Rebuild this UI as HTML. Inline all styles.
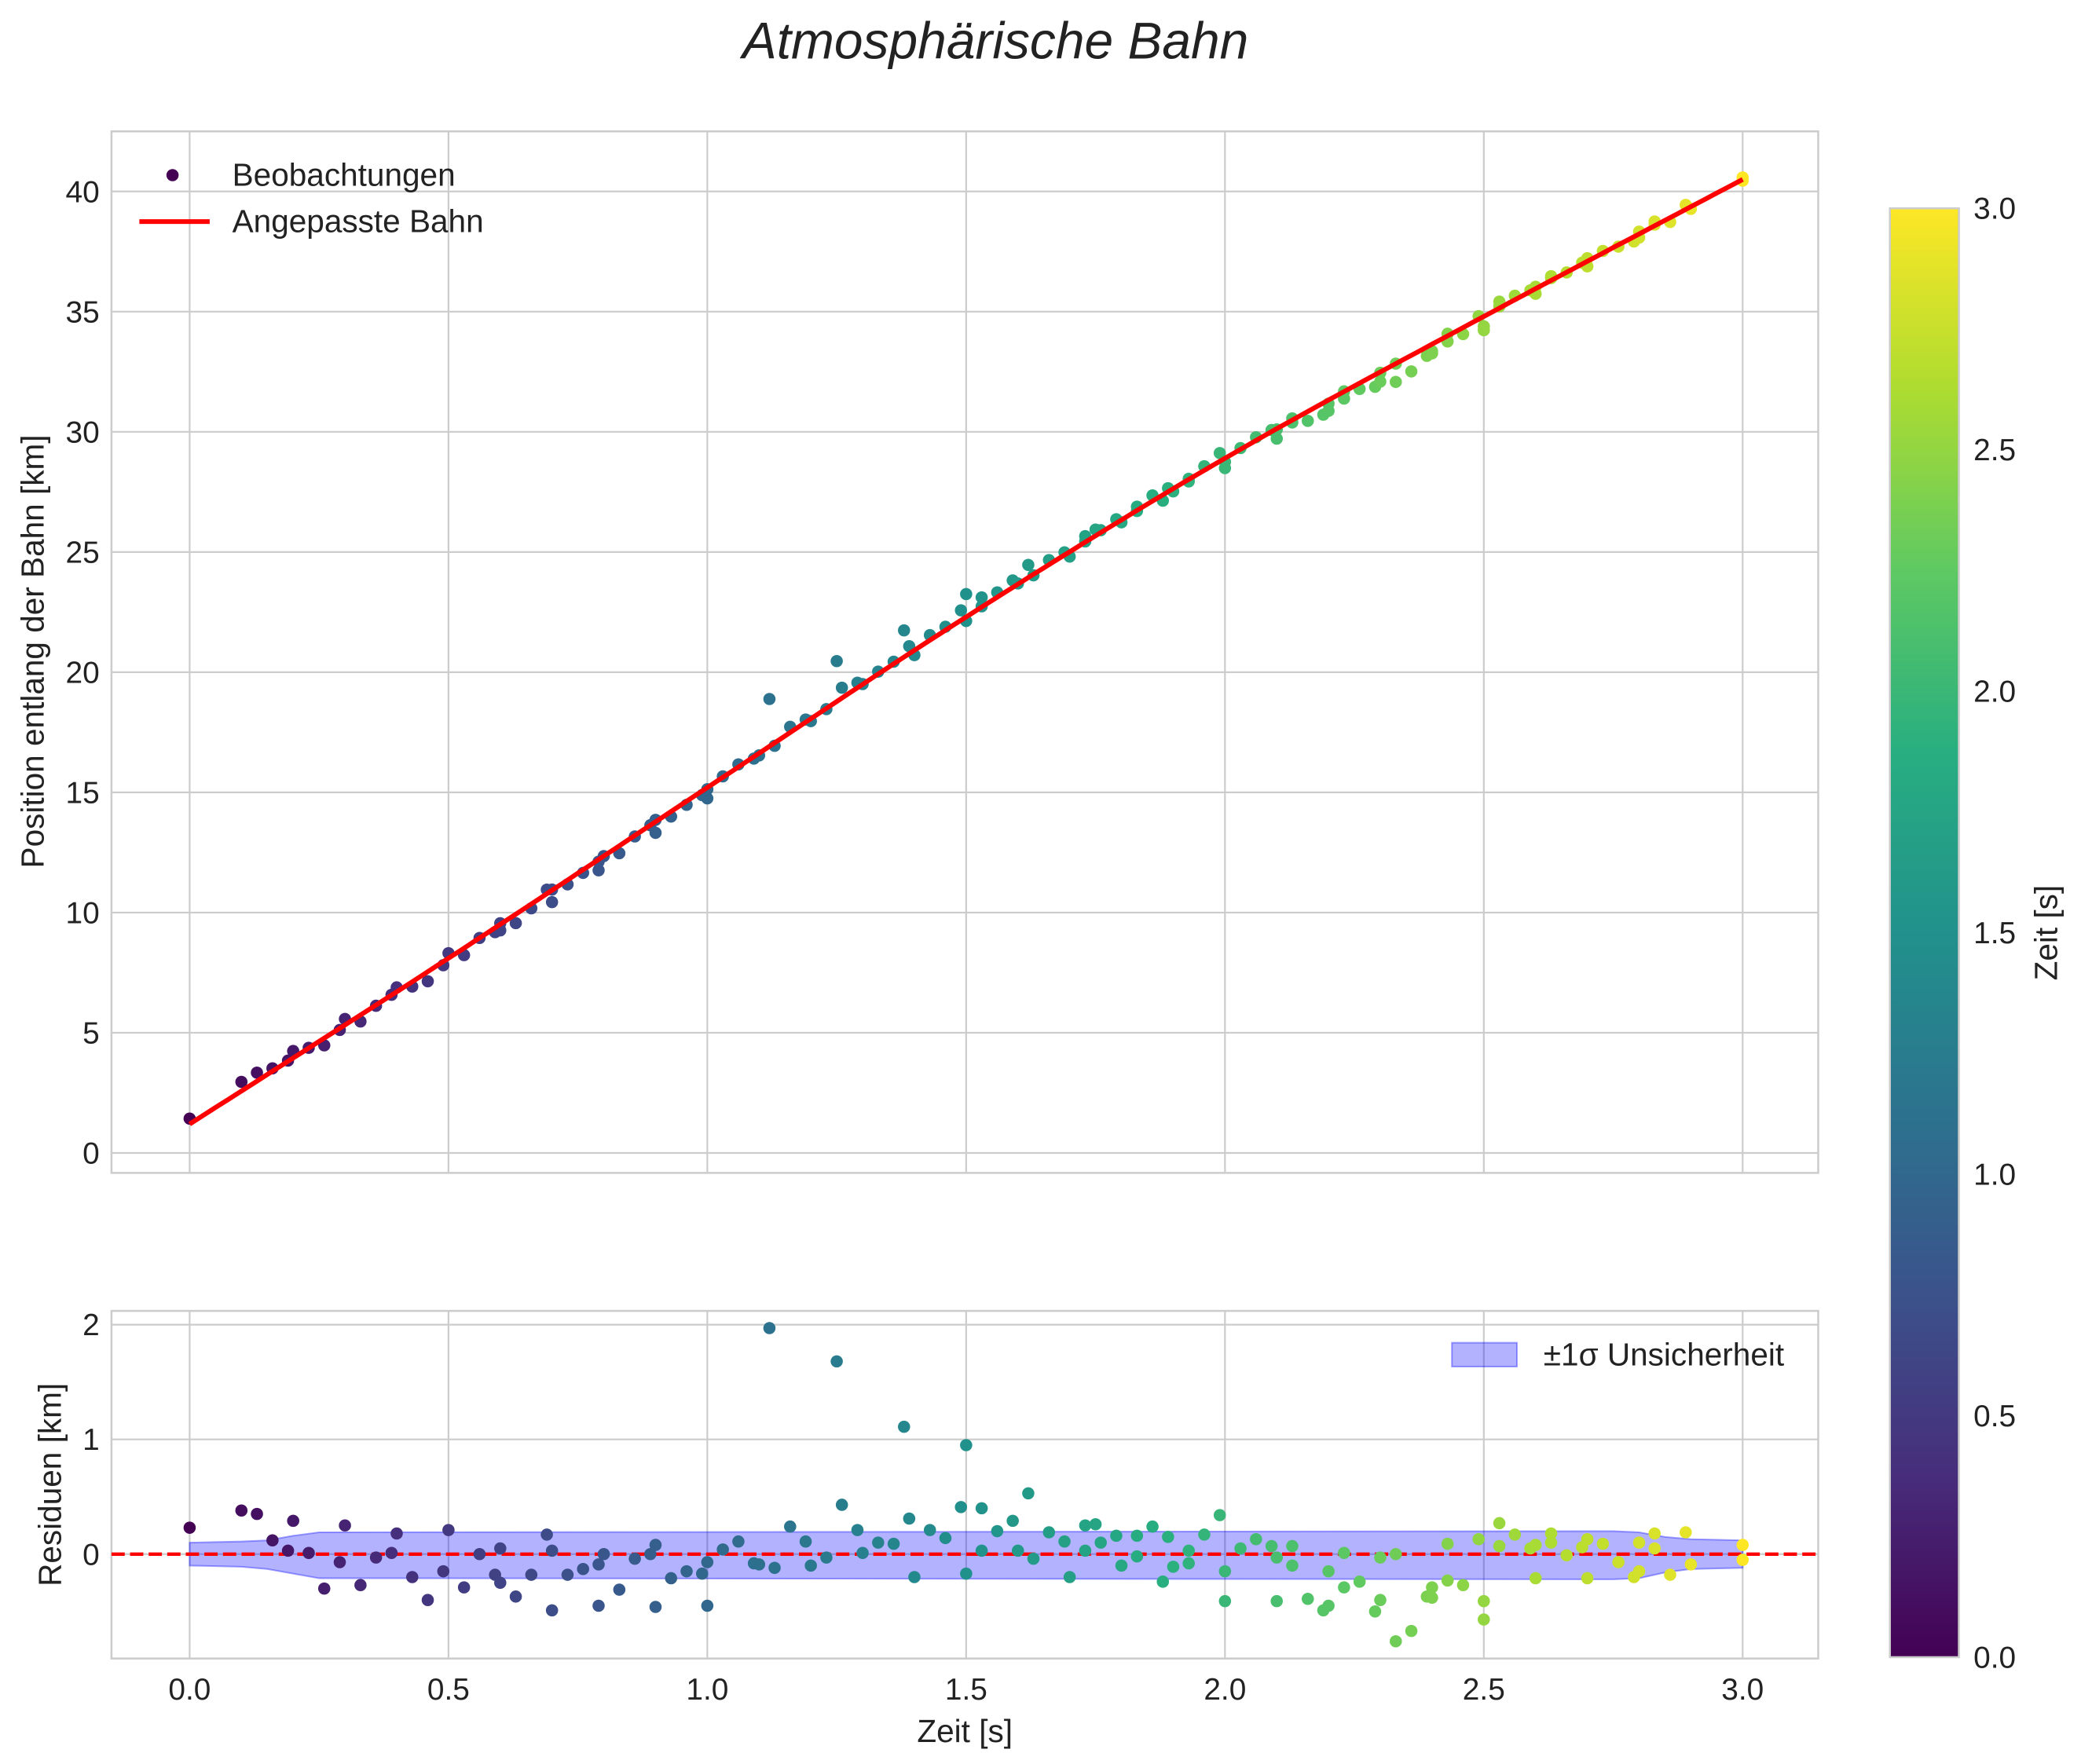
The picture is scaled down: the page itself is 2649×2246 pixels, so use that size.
<!DOCTYPE html>
<html><head><meta charset="utf-8"><style>
html,body{margin:0;padding:0;background:#fff;}
svg{display:block;font-family:"Liberation Sans",Arial,sans-serif;}
</style></head><body>
<svg id="chart" width="2649" height="2246" viewBox="0 0 1568 1329.5" preserveAspectRatio="none" xmlns="http://www.w3.org/2000/svg">
<defs>
<linearGradient id="vir" x1="0" y1="1" x2="0" y2="0">
<stop offset="0" stop-color="#440154"/><stop offset="0.125" stop-color="#472d7b"/><stop offset="0.25" stop-color="#3b528b"/><stop offset="0.375" stop-color="#2c728e"/><stop offset="0.5" stop-color="#21918c"/><stop offset="0.625" stop-color="#28ae80"/><stop offset="0.75" stop-color="#5ec962"/><stop offset="0.875" stop-color="#addc30"/><stop offset="1" stop-color="#fde725"/>
</linearGradient>
</defs>
<text x="750" y="44" text-anchor="middle" font-size="39" font-style="italic" fill="#222">Atmosphärische Bahn</text>
<g id="topPanel"></g>
<g id="botPanel"></g>
<g id="cbarPanel"></g>
</svg>
<script>
const resT=[0,0.10,0.13,0.16,0.19,0.20,0.23,0.26,0.29,0.30,0.33,0.36,0.39,0.40,0.43,0.46,0.49,0.50,0.53,0.56,0.59,0.60,0.60,0.63,0.66,0.69,0.70,0.70,0.73,0.76,0.79,0.79,0.80,0.83,0.86,0.89,0.90,0.90,0.93,0.96,0.99,1.00,1.00,1.03,1.06,1.09,1.10,1.12,1.13,1.16,1.19,1.20,1.23,1.25,1.26,1.29,1.30,1.33,1.36,1.38,1.39,1.40,1.43,1.46,1.49,1.50,1.50,1.53,1.53,1.56,1.59,1.60,1.62,1.63,1.66,1.69,1.70,1.73,1.73,1.75,1.76,1.79,1.80,1.83,1.83,1.86,1.88,1.89,1.90,1.93,1.93,1.96,1.99,2.00,2.00,2.03,2.06,2.09,2.10,2.10,2.13,2.13,2.16,2.19,2.20,2.20,2.23,2.23,2.26,2.29,2.30,2.30,2.33,2.33,2.36,2.39,2.40,2.40,2.43,2.43,2.46,2.49,2.50,2.50,2.53,2.53,2.56,2.59,2.60,2.60,2.63,2.63,2.66,2.69,2.70,2.70,2.73,2.76,2.79,2.80,2.80,2.83,2.83,2.86,2.89,2.90,3.00,3.00];
const resV=[0.23,0.38,0.35,0.12,0.03,0.29,0.01,-0.30,-0.07,0.25,-0.27,-0.03,0.01,0.18,-0.20,-0.40,-0.15,0.21,-0.29,0.00,-0.18,0.05,-0.25,-0.37,-0.18,0.17,-0.49,0.03,-0.18,-0.13,-0.09,-0.45,0.00,-0.31,-0.04,0.00,0.08,-0.46,-0.21,-0.15,-0.17,-0.45,-0.07,0.04,0.11,-0.08,-0.09,1.97,-0.12,0.24,0.11,-0.10,-0.03,1.68,0.43,0.21,0.01,0.10,0.09,1.11,0.31,-0.20,0.21,0.14,0.41,0.95,-0.17,0.40,0.03,0.20,0.29,0.03,0.53,-0.04,0.19,0.11,-0.20,0.25,0.03,0.26,0.10,0.16,-0.10,0.16,-0.02,0.24,-0.24,0.15,-0.11,0.03,-0.08,0.17,0.34,-0.15,-0.41,0.05,0.13,0.07,-0.03,-0.41,0.07,-0.10,-0.39,-0.49,-0.45,-0.15,-0.29,0.01,-0.24,-0.50,-0.40,-0.03,-0.76,0.00,-0.67,-0.37,-0.38,-0.29,-0.23,0.09,-0.27,0.13,-0.57,-0.41,0.27,0.07,0.17,0.05,0.08,-0.21,0.18,0.10,-0.01,0.06,0.13,-0.21,0.09,-0.07,-0.20,0.10,-0.15,0.18,0.05,-0.18,0.19,-0.09,0.08,-0.05];
const fitT=[0,0.5,1,1.5,2,2.5,3];
const fitV=[1.2,8.1,15.2,22.3,28.9,34.8,40.5];
const bandT=[0,0.1,0.15,0.2,0.25,2.75,2.8,2.85,2.9,3.0];
const bandHi=[0.1,0.11,0.12,0.16,0.19,0.2,0.19,0.15,0.13,0.12];
const bandLo=[-0.1,-0.11,-0.13,-0.17,-0.21,-0.22,-0.21,-0.16,-0.13,-0.12];
const yTicksTop=[0,5,10,15,20,25,30,35,40];
const yTicksBot=[0,1,2];
const xTicks=[0,0.5,1,1.5,2,2.5,3];
const cbTicks=[0,0.5,1,1.5,2,2.5,3];

const NS="http://www.w3.org/2000/svg";
function mk(tag,attrs,parent,txt){const e=document.createElementNS(NS,tag);for(const k in attrs)e.setAttribute(k,attrs[k]);if(txt!==undefined)e.textContent=txt;parent.appendChild(e);return e;}
const L=84,R=1370;
const X=t=>L+(t+0.151)/(3.297)*(R-L);
const TT=99,TB=884,YT=y=>TT+(42.5-y)/(43.33)*(TB-TT);
const BT=988,BB=1250,YB=r=>BT+(2.12-r)/(3.03)*(BB-BT);
const vir=["#440154","#472d7b","#3b528b","#2c728e","#21918c","#28ae80","#5ec962","#addc30","#fde725"];
function hex(h){return [1,3,5].map(i=>parseInt(h.substr(i,2),16));}
function cmap(v){v=Math.max(0,Math.min(1,v))*8;const i=Math.min(7,Math.floor(v)),f=v-i;const a=hex(vir[i]),b=hex(vir[i+1]);return "rgb("+a.map((c,k)=>Math.round(c+(b[k]-c)*f)).join(",")+")";}
function fitAt(t){let i=Math.max(0,Math.min(fitT.length-2,Math.floor(t/0.5)));const p=k=>fitV[Math.max(0,Math.min(fitV.length-1,k))];
const p0=i===0?2*p(0)-p(1):p(i-1),p1=p(i),p2=p(i+1),p3=i+2>=fitV.length?2*p(i+1)-p(i):p(i+2);const u=(t-fitT[i])/0.5;
return 0.5*((2*p1)+(-p0+p2)*u+(2*p0-5*p1+4*p2-p3)*u*u+(-p0+3*p1-3*p2+p3)*u*u*u);}

const gTop=document.getElementById('topPanel'),gBot=document.getElementById('botPanel'),gCb=document.getElementById('cbarPanel');
mk('rect',{x:L,y:TT,width:R-L,height:TB-TT,fill:'#fff',stroke:'#ccc','stroke-width':1.5,},gTop);
xTicks.forEach(t=>{mk('line',{x1:X(t),x2:X(t),y1:TT,y2:TB,stroke:'#ccc','stroke-width':1.3,},gTop);});
yTicksTop.forEach(v=>{mk('line',{x1:L,x2:R,y1:YT(v),y2:YT(v),stroke:'#ccc','stroke-width':1.3,},gTop);
mk('text',{x:L-9,y:YT(v)+8,'text-anchor':'end','font-size':23,fill:'#222',},gTop,String(v));});
mk('text',{x:33,y:491,'text-anchor':'middle','font-size':24,fill:'#222',transform:'rotate(-90 33 491)',},gTop,'Position entlang der Bahn [km]');
resT.forEach((t,i)=>{const c=mk('circle',{cx:X(t),cy:YT(fitAt(t)+resV[i]),r:4.6,fill:cmap(t/3)},gTop);

});
let d='';for(let k=0;k<=120;k++){const t=3*k/120;d+=(k?'L':'M')+X(t).toFixed(1)+','+YT(fitAt(t)).toFixed(1);}
mk('path',{d:d,fill:'none',stroke:'#ff0000','stroke-width':3.6,},gTop);
mk('circle',{cx:130,cy:132,r:4.6,fill:'#440154',},gTop);
mk('text',{x:175,y:140,'font-size':24,fill:'#222',},gTop,'Beobachtungen');
mk('line',{x1:105,x2:158,y1:167,y2:167,stroke:'#ff0000','stroke-width':3.6,},gTop);
mk('text',{x:175,y:175,'font-size':24,fill:'#222',},gTop,'Angepasste Bahn');

mk('rect',{x:L,y:BT,width:R-L,height:BB-BT,fill:'#fff',stroke:'#ccc','stroke-width':1.5,},gBot);
xTicks.forEach(t=>{mk('line',{x1:X(t),x2:X(t),y1:BT,y2:BB,stroke:'#ccc','stroke-width':1.3,},gBot);
mk('text',{x:X(t),y:BB+31,'text-anchor':'middle','font-size':23,fill:'#222',},gBot,t.toFixed(1));});
yTicksBot.forEach(v=>{mk('line',{x1:L,x2:R,y1:YB(v),y2:YB(v),stroke:'#ccc','stroke-width':1.3,},gBot);
mk('text',{x:L-9,y:YB(v)+8,'text-anchor':'end','font-size':23,fill:'#222',},gBot,String(v));});
let bp='';bandT.forEach((t,i)=>{bp+=(i?'L':'M')+X(t)+','+YB(bandHi[i]);});
for(let i=bandT.length-1;i>=0;i--)bp+='L'+X(bandT[i])+','+YB(bandLo[i]);bp+='Z';
mk('path',{d:bp,fill:'rgba(0,0,255,0.3)',stroke:'rgba(0,0,255,0.35)','stroke-width':1.2,},gBot);
mk('line',{x1:L,x2:R,y1:YB(0),y2:YB(0),stroke:'#ff0000','stroke-width':2.6,'stroke-dasharray':'10,4',},gBot);
resT.forEach((t,i)=>{const c=mk('circle',{cx:X(t),cy:YB(resV[i]),r:4.6,fill:cmap(t/3)},gBot);

});
mk('text',{x:46,y:1119,'text-anchor':'middle','font-size':24,fill:'#222',transform:'rotate(-90 46 1119)',},gBot,'Residuen [km]');
mk('text',{x:727,y:1313,'text-anchor':'middle','font-size':24,fill:'#222',},gBot,'Zeit [s]');
mk('rect',{x:1094,y:1012,width:49,height:18,fill:'rgba(0,0,255,0.3)',stroke:'rgba(0,0,255,0.35)','stroke-width':1.2,},gBot);
mk('text',{x:1163,y:1029,'font-size':24,fill:'#222',},gBot,'±1σ Unsicherheit');

const CT=157,CBB=1249,CL=1424,CW=52;const CY=v=>CBB-(v/3)*(CBB-CT);
mk('rect',{x:CL,y:CT,width:CW,height:CBB-CT,fill:'url(#vir)',stroke:'#ccc','stroke-width':1.5,},gCb);
cbTicks.forEach(v=>{mk('text',{x:CL+CW+11,y:CY(v)+8,'font-size':23,fill:'#222',},gCb,v.toFixed(1));});
mk('text',{x:1550,y:703,'text-anchor':'middle','font-size':24,fill:'#222',transform:'rotate(-90 1550 703)',},gCb,'Zeit [s]');
</script>
</body></html>
